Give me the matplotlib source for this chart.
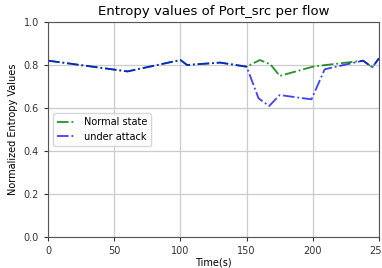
import matplotlib
matplotlib.use("Agg")
import matplotlib.pyplot as plt

# tiempos y valores de entropía
t_normal = [0, 60, 100, 105, 130, 150, 160, 168, 175, 200, 210, 238, 245, 250]
normal = [0.82, 0.77, 0.823, 0.80, 0.811, 0.792, 0.823, 0.803, 0.749, 0.792, 0.80, 0.82, 0.789, 0.831]

t_attack = [0, 60, 100, 105, 130, 150, 159, 167, 175, 199, 209, 238, 245, 250]
attack = [0.82, 0.77, 0.823, 0.80, 0.811, 0.792, 0.645, 0.609, 0.66, 0.64, 0.78, 0.82, 0.789, 0.831]

fig = plt.figure(figsize=(3.82, 2.68), dpi=100)
ax = fig.add_axes([0.126, 0.116, 0.866, 0.802])
ax.plot(t_normal, normal, "-.", color="green", alpha=0.85, lw=1.3, label="Normal state")
ax.plot(t_attack, attack, "-.", color="blue", alpha=0.75, lw=1.3, label="under attack")
ax.set_xlim(0, 250)
ax.set_ylim(0, 1.0)
ax.set_xticks([0, 50, 100, 150, 200, 250])
ax.set_yticks([0.0, 0.2, 0.4, 0.6, 0.8, 1.0])
ax.grid(True, color="#cccccc", lw=0.9)
ax.tick_params(labelsize=7, colors="#333333", length=3)
for s in ax.spines.values():
    s.set_color("#555555")
ax.set_title("Entropy values of Port_src per flow", fontsize=9.5, pad=5)
ax.set_xlabel("Time(s)", fontsize=7, labelpad=1)
ax.set_ylabel("Normalized Entropy Values", fontsize=7)
ax.legend(loc="center left", fontsize=7)
fig.savefig("out.png", dpi=100)
